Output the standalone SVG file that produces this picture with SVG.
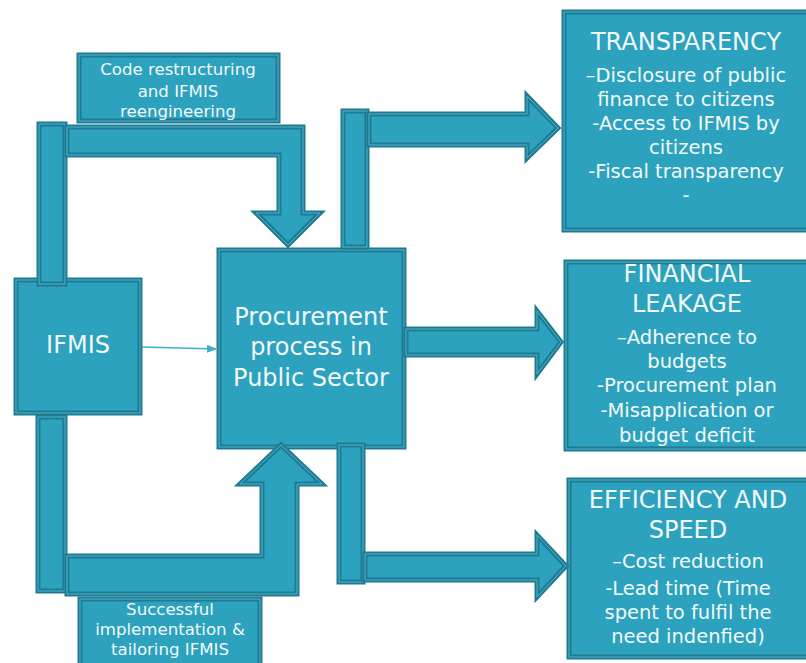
<svg xmlns="http://www.w3.org/2000/svg" width="806" height="663" viewBox="0 0 806 663">
<defs>
<style>
.sh{fill:#2ca2be;stroke:#1f7b91;stroke-width:5;stroke-linejoin:miter}
.ln{fill:none;stroke:#4db5cd;stroke-width:1}
text{font-family:"DejaVu Sans","Liberation Sans",sans-serif;fill:#f2f9fb;text-anchor:middle}
.t24{font-size:24px}
.t20{font-size:19.5px}
.t16{font-size:16.6px}
.thin{stroke:#3eaec8;stroke-width:1.5;fill:none}
</style>
<marker id="ah" markerWidth="10" markerHeight="8" refX="9" refY="4" orient="auto" markerUnits="userSpaceOnUse">
<path d="M0,0 L10,4 L0,8 Z" fill="#3eaec8"/>
</marker>
</defs>
<rect width="806" height="663" fill="#ffffff"/>
<g id="nodes">
<g id="code-restructuring">
<rect class="sh" x="79" y="55" width="199" height="66"/>
<rect class="ln" x="79" y="55" width="199" height="66"/>
<text class="t16" x="178" y="75">Code restructuring</text>
<text class="t16" x="178" y="97">and IFMIS</text>
<text class="t16" x="178" y="117">reengineering</text>
</g>
<g id="successful">
<rect class="sh" x="80" y="599" width="180" height="80"/>
<rect class="ln" x="80" y="599" width="180" height="80"/>
<text class="t16" x="170" y="615">Successful</text>
<text class="t16" x="170" y="635">implementation &amp;</text>
<text class="t16" x="170" y="655">tailoring IFMIS</text>
</g>
<g id="ifmis">
<rect class="sh" x="16" y="280" width="124" height="133"/>
<rect class="ln" x="16" y="280" width="124" height="133"/>
<text class="t24" x="78" y="353">IFMIS</text>
</g>
<g id="procurement">
<rect class="sh" x="219" y="250" width="185" height="197"/>
<rect class="ln" x="219" y="250" width="185" height="197"/>
<text class="t24" x="311" y="325">Procurement</text>
<text class="t24" x="311" y="355">process in</text>
<text class="t24" x="311" y="386">Public Sector</text>
</g>
<g id="transparency">
<rect class="sh" x="564" y="12" width="260" height="218"/>
<rect class="ln" x="564" y="12" width="260" height="218"/>
<text class="t24" x="686" y="50">TRANSPARENCY</text>
<text class="t20" x="686" y="82">–Disclosure of public</text>
<text class="t20" x="686" y="106">finance to citizens</text>
<text class="t20" x="686" y="130">-Access to IFMIS by</text>
<text class="t20" x="686" y="154">citizens</text>
<text class="t20" x="686" y="178">-Fiscal transparency</text>
<text class="t20" x="686" y="202">-</text>
</g>
<g id="financial-leakage">
<rect class="sh" x="566" y="262" width="260" height="187"/>
<rect class="ln" x="566" y="262" width="260" height="187"/>
<text class="t24" x="687" y="282">FINANCIAL</text>
<text class="t24" x="687" y="312">LEAKAGE</text>
<text class="t20" x="687" y="344">–Adherence to</text>
<text class="t20" x="687" y="368">budgets</text>
<text class="t20" x="687" y="392">-Procurement plan</text>
<text class="t20" x="687" y="417">-Misapplication or</text>
<text class="t20" x="687" y="442">budget deficit</text>
</g>
<g id="efficiency">
<rect class="sh" x="569" y="480" width="260" height="177"/>
<rect class="ln" x="569" y="480" width="260" height="177"/>
<text class="t24" x="688" y="508">EFFICIENCY AND</text>
<text class="t24" x="688" y="538">SPEED</text>
<text class="t20" x="688" y="568">–Cost reduction</text>
<text class="t20" x="688" y="595">-Lead time (Time</text>
<text class="t20" x="688" y="619">spent to fulfil the</text>
<text class="t20" x="688" y="643">need indenfied)</text>
</g>
</g>
<g id="connectors">
<rect class="sh" x="39" y="124" width="26" height="160"/>
<rect class="ln" x="39" y="124" width="26" height="160"/>
<polygon class="sh" points="67,127 303,127 303,213 320,213 288,245 256,213 279,213 279,155 67,155"/>
<polygon class="ln" points="67,127 303,127 303,213 320,213 288,245 256,213 279,213 279,155 67,155"/>
<rect class="sh" x="343" y="111" width="24" height="136"/>
<rect class="ln" x="343" y="111" width="24" height="136"/>
<polygon class="sh" points="369,114 527,114 527,96 558,128 527,158 527,145 369,145"/>
<polygon class="ln" points="369,114 527,114 527,96 558,128 527,158 527,145 369,145"/>
<polygon class="sh" points="406,329 537,329 537,311 561,342 537,374 537,355 406,355"/>
<polygon class="ln" points="406,329 537,329 537,311 561,342 537,374 537,355 406,355"/>
<rect class="sh" x="339" y="445" width="24" height="137"/>
<rect class="ln" x="339" y="445" width="24" height="137"/>
<polygon class="sh" points="365,554 537,554 537,535 566,566 537,597 537,580 365,580"/>
<polygon class="ln" points="365,554 537,554 537,535 566,566 537,597 537,580 365,580"/>
<rect class="sh" x="38" y="417" width="27" height="174"/>
<rect class="ln" x="38" y="417" width="27" height="174"/>
<polygon class="sh" points="67,556 262,556 262,484 240,484 281,445 322,484 297,484 297,594 67,594"/>
<polygon class="ln" points="67,556 262,556 262,484 240,484 281,445 322,484 297,484 297,594 67,594"/>
<line class="thin" x1="142" y1="347" x2="216" y2="349" marker-end="url(#ah)"/>
</g>
</svg>
